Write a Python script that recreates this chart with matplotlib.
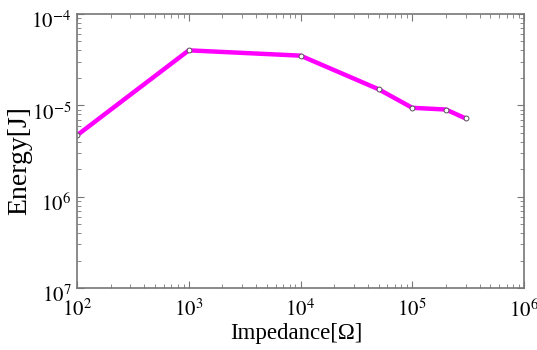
import matplotlib
matplotlib.use("Agg")
import matplotlib.pyplot as plt
import matplotlib.transforms as mtransforms
from matplotlib.ticker import LogLocator, FixedLocator, NullFormatter

plt.rcParams['font.family'] = ['Liberation Serif', 'DejaVu Serif']
plt.rcParams['mathtext.fontset'] = 'stix'

impedance = [1e2, 1e3, 1e4, 5e4, 1e5, 2e5, 3e5]
energy = [4.7e-6, 4.0e-5, 3.5e-5, 1.5e-5, 9.4e-6, 9.0e-6, 7.2e-6]

x_ticks = [1e2, 1e3, 1e4, 1e5, 1e6]
x_labels = [r'$10^{2}$', r'$10^{3}$', r'$10^{4}$', r'$10^{5}$', r'$10^{6}$']
y_ticks = [1e-7, 1e-6, 1e-5, 1e-4]
y_labels = [r'$10^{7}$', r'$10^{6}$', r'$10^{-5}$', r'$10^{-4}$']

fig = plt.figure(figsize=(5.37, 3.5), dpi=100)
ax = fig.add_axes([0.1434, 0.177, 0.8324, 0.783])
ax.plot(impedance, energy, color='#ff00ff', lw=3.2, marker='o', ms=3.5,
        mfc='white', mec='#555555', mew=0.7)
ax.set_xscale('log')
ax.set_yscale('log')
ax.set_xlim(1e2, 1e6)
ax.set_ylim(1e-7, 1e-4)
ax.xaxis.set_major_locator(FixedLocator(x_ticks))
ax.set_xticklabels(x_labels)
ax.yaxis.set_major_locator(FixedLocator(y_ticks))
ax.set_yticklabels(y_labels)
ax.xaxis.set_minor_locator(LogLocator(base=10, subs=range(2, 10)))
ax.yaxis.set_minor_locator(LogLocator(base=10, subs=range(2, 10)))
ax.xaxis.set_minor_formatter(NullFormatter())
ax.yaxis.set_minor_formatter(NullFormatter())
ax.tick_params(which='both', direction='in', top=True, right=True,
               color='#777777', labelsize=15)
ax.tick_params(axis='x', which='major', pad=8)
ax.tick_params(axis='y', which='major', pad=4)
ax.tick_params(which='major', length=5)
ax.tick_params(which='minor', length=3)
offset = mtransforms.ScaledTranslation(0, -6 / 100, fig.dpi_scale_trans)
for lab in ax.get_yticklabels():
    lab.set_transform(lab.get_transform() + offset)
for s in ax.spines.values():
    s.set_color('#777777')
    s.set_linewidth(1.2)
ax.set_xlabel('Impedance[Ω]', fontsize=16.5)
ax.xaxis.set_label_coords(0.49, -0.128)
ax.xaxis.label.set_va('top')
ax.set_ylabel('Energy[J]', fontsize=20)
ax.yaxis.set_label_coords(-0.1007, 0.467)
fig.savefig('out.png', dpi=100)
